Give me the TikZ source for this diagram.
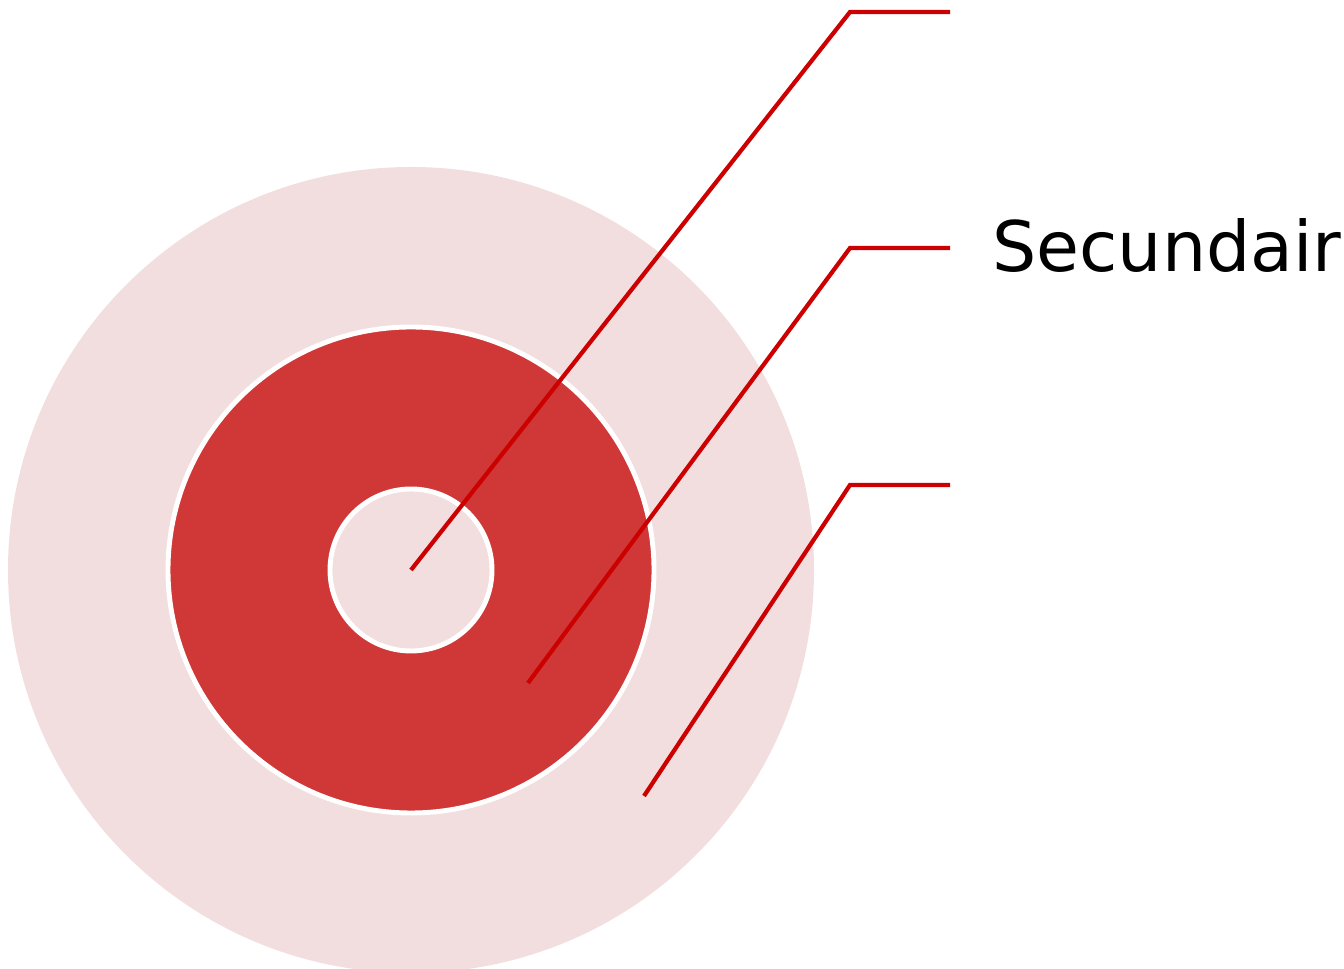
\documentclass[tikz,border=0pt]{standalone}
\usepackage{fontspec}
\setmainfont{DejaVu Sans}
\begin{document}
\begin{tikzpicture}[x=0.02cm, y=0.02cm]
    % colours of the rings and leader lines
    \definecolor{ringLight}{RGB}{242, 222, 222}
    \definecolor{ringDark}{RGB}{208, 55, 55}
    \definecolor{leaderRed}{RGB}{204, 0, 0}
    \tikzset{
        leader/.style={draw=leaderRed, line width=2.4pt, line join=miter},
        label/.style={anchor=base west, inner sep=0pt, font=\fontsize{39.7}{44}\selectfont}
    }

    % 1. page frame
    \useasboundingbox (0,0) rectangle (1344,969);

    % 2. rings
    \coordinate (centre) at (411,399);
    \fill[ringLight] (centre) circle (403);
    \filldraw[fill=ringDark, draw=white, line width=2.8pt] (centre) circle (243);
    \filldraw[fill=ringLight, draw=white, line width=2.8pt] (centre) circle (81);

    % 3. leader lines: start point, bend, end
    \coordinate (p1) at (411,399);
    \coordinate (p2) at (528,286);
    \coordinate (p3) at (644,173);
    \foreach \i/\y in {1/957, 2/721, 3/484} {
        \coordinate (b\i) at (850,\y);
        \coordinate (e\i) at (950,\y);
        \draw[leader] (p\i) -- (b\i) -- (e\i);
    }

    % 4. label
    \node[label] (sec) at (992,697) {Secundair};
\end{tikzpicture}
\end{document}
